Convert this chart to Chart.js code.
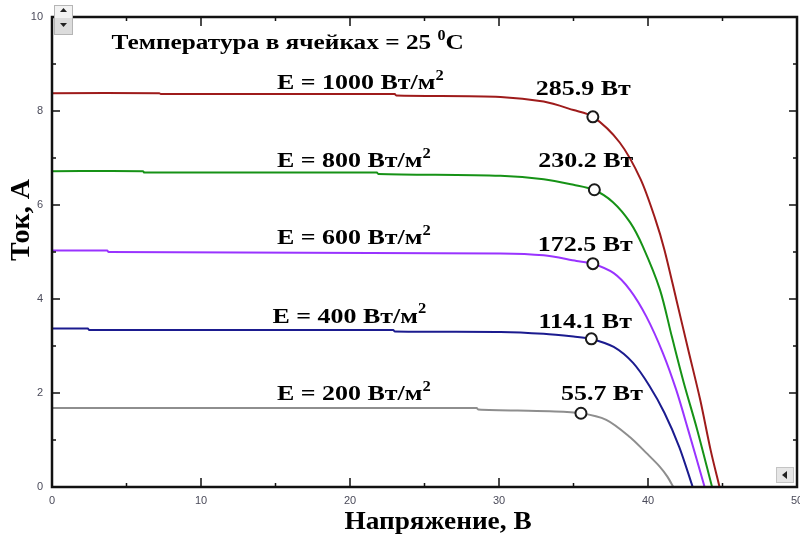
<!DOCTYPE html>
<html>
<head>
<meta charset="utf-8">
<script src="https://cdn.jsdelivr.net/npm/chart.js@4.4.1/dist/chart.umd.min.js"></script>
<style>
  html, body { margin: 0; padding: 0; background: #fff; }
  canvas { display: block; }
</style>
</head>
<body>
<canvas id="ivChart" width="800" height="539"></canvas>
<script>
// irradiance levels, W/m2
const irradiance = [1000, 800, 600, 400, 200];

// I-V curves: voltage (V) and current (A) along each curve
const volt1000 = [0, 7.2, 7.3, 23.0, 23.1, 30.1, 33.0, 35.0, 36.3, 38.1, 39.5, 40.5, 41.1, 41.9, 42.7, 43.5, 44.2, 44.8];
const amp1000  = [8.38, 8.38, 8.36, 8.36, 8.33, 8.30, 8.20, 8.02, 7.88, 7.33, 6.55, 5.69, 5.05, 3.99, 2.92, 1.86, 0.79, 0];

const volt800 = [0, 6.1, 6.2, 21.8, 21.9, 30.1, 33.0, 35.0, 36.4, 37.65, 38.8, 39.65, 40.8, 41.6, 42.4, 43.3, 44.3];
const amp800  = [6.72, 6.72, 6.69, 6.69, 6.66, 6.62, 6.55, 6.43, 6.32, 6.06, 5.63, 5.12, 4.20, 3.20, 2.22, 1.22, 0];

const volt600 = [0, 3.7, 3.8, 30.1, 33.0, 35.2, 36.3, 37.7, 38.8, 39.9, 41.0, 41.9, 42.7, 43.8];
const amp600  = [5.03, 5.03, 5.00, 4.97, 4.93, 4.81, 4.75, 4.55, 4.19, 3.62, 2.85, 2.06, 1.21, 0];

const volt400 = [0, 2.4, 2.5, 22.9, 23.0, 30.1, 33.0, 35.0, 36.2, 37.7, 39.0, 40.1, 41.1, 42.1, 43.0];
const amp400  = [3.37, 3.37, 3.34, 3.34, 3.31, 3.30, 3.26, 3.20, 3.15, 2.98, 2.64, 2.15, 1.58, 0.85, 0];

const volt200 = [0, 28.5, 28.6, 33.4, 35.5, 37.2, 38.8, 39.9, 40.8, 41.3, 41.7];
const amp200  = [1.68, 1.68, 1.65, 1.61, 1.57, 1.43, 1.06, 0.72, 0.43, 0.22, 0];

// maximum power points
const mppPower = [285.9, 230.2, 172.5, 114.1, 55.7];
const mppVolt  = [36.3, 36.4, 36.3, 36.2, 35.5];

const xTickLabels = [0, 10, 20, 30, 40, 50];
const yTickLabels = [0, 2, 4, 6, 8, 10];

const curveVolts = [volt1000, volt800, volt600, volt400, volt200];
const curveAmps  = [amp1000, amp800, amp600, amp400, amp200];
const curveColors = ['#9e1b1b', '#169216', '#9933ff', '#1b1b8f', '#8e8e8e'];

const serif = '"Liberation Serif", "Times New Roman", serif';

const curveSets = irradiance.map((e, i) => ({
  label: 'E = ' + e,
  data: curveVolts[i].map((v, k) => ({ x: v, y: curveAmps[i][k] })),
  showLine: true,
  borderColor: curveColors[i],
  borderWidth: 2,
  pointRadius: 0,
  tension: 0.3,
  order: 1
}));

const mppSet = {
  label: 'MPP',
  data: mppVolt.map((v, i) => ({ x: v, y: mppPower[i] / v })),
  showLine: false,
  pointRadius: 5.5,
  pointBorderWidth: 2,
  pointBorderColor: '#1a1a1a',
  pointBackgroundColor: '#ffffff',
  order: 0
};

// bold serif text, slightly widened, with optional superscript parts
function drawText(ctx, x, y, parts, size, sx) {
  ctx.save();
  ctx.translate(x, y);
  ctx.scale(sx, 1);
  ctx.fillStyle = '#000';
  ctx.textBaseline = 'alphabetic';
  ctx.textAlign = 'left';
  let cx = 0;
  for (const p of parts) {
    const sup = typeof p !== 'string';
    const t = sup ? p.sup : p;
    ctx.font = 'bold ' + (sup ? Math.round(size * 0.62) : size) + 'px ' + serif;
    ctx.fillText(t, cx, sup ? -size * 0.42 : 0);
    cx += ctx.measureText(t).width;
  }
  ctx.restore();
}

const frameAndLabels = {
  id: 'frameAndLabels',
  afterDatasetsDraw(chart, args, opts) {
    const { ctx, chartArea: a, scales: { x, y } } = chart;

    // box with inward ticks
    ctx.save();
    ctx.strokeStyle = '#111';
    ctx.lineWidth = 1.5;
    y.ticks.forEach(t => {
      const py = y.getPixelForValue(t.value);
      const len = yTickLabels.includes(t.value) ? 8 : 4;
      ctx.beginPath();
      ctx.moveTo(a.left, py); ctx.lineTo(a.left + len, py);
      ctx.moveTo(a.right, py); ctx.lineTo(a.right - len, py);
      ctx.stroke();
    });
    x.ticks.forEach(t => {
      const px = x.getPixelForValue(t.value);
      const len = xTickLabels.includes(t.value) ? 9 : 4;
      ctx.beginPath();
      ctx.moveTo(px, a.bottom); ctx.lineTo(px, a.bottom - len);
      ctx.moveTo(px, a.top); ctx.lineTo(px, a.top + len);
      ctx.stroke();
    });
    ctx.lineWidth = 2.5;
    ctx.strokeRect(a.left, a.top, a.right - a.left, a.bottom - a.top);
    ctx.restore();

    // header
    const t = opts.header;
    drawText(ctx, x.getPixelForValue(t.at[0]), y.getPixelForValue(t.at[1]),
      ['Температура в ячейках = 25 ', { sup: '0' }, 'C'], opts.size, t.stretch);

    // irradiance labels
    irradiance.forEach((e, i) => {
      const at = opts.curveLabels[i];
      drawText(ctx, x.getPixelForValue(at[0]), y.getPixelForValue(at[1]),
        ['E = ' + e + ' Вт/м', { sup: '2' }], opts.size, opts.stretch);
    });

    // power at the maximum power points
    const pts = chart.getDatasetMeta(chart.data.datasets.length - 1).data;
    mppPower.forEach((p, i) => {
      const off = opts.powerOffsets[i];
      drawText(ctx, pts[i].x + off[0], pts[i].y + off[1],
        [p.toFixed(1) + ' Вт'], opts.size, opts.stretch);
    });

    // axis titles
    ctx.save();
    ctx.fillStyle = '#000';
    ctx.textAlign = 'center';
    ctx.textBaseline = 'middle';
    ctx.font = 'bold 26px ' + serif;
    ctx.translate(438, 522);
    ctx.scale(1.05, 1);
    ctx.fillText('Напряжение, В', 0, 0);
    ctx.restore();
    ctx.save();
    ctx.fillStyle = '#000';
    ctx.textAlign = 'center';
    ctx.textBaseline = 'middle';
    ctx.font = 'bold 28px ' + serif;
    ctx.translate(22, 220);
    ctx.rotate(-Math.PI / 2);
    ctx.fillText('Ток, А', 0, 0);
    ctx.restore();
  },
  afterDraw(chart) {
    // small scroll buttons of the plot window
    const ctx = chart.ctx;
    ctx.save();
    ctx.fillStyle = '#f2f2f2';
    ctx.fillRect(54, 5, 19, 13);
    ctx.fillStyle = '#dcdcdc';
    ctx.fillRect(54, 18, 19, 17);
    ctx.strokeStyle = '#b5b5b5';
    ctx.lineWidth = 1;
    ctx.strokeRect(54.5, 5.5, 18, 29);
    ctx.fillStyle = '#222';
    ctx.beginPath();
    ctx.moveTo(60, 12); ctx.lineTo(67, 12); ctx.lineTo(63.5, 8); ctx.closePath(); ctx.fill();
    ctx.beginPath();
    ctx.moveTo(60, 23); ctx.lineTo(67, 23); ctx.lineTo(63.5, 27); ctx.closePath(); ctx.fill();
    ctx.fillStyle = '#e6e6e6';
    ctx.fillRect(776, 467, 18, 16);
    ctx.strokeStyle = '#c4c4c4';
    ctx.strokeRect(776.5, 467.5, 17, 15);
    ctx.fillStyle = '#222';
    ctx.beginPath();
    ctx.moveTo(782, 475); ctx.lineTo(787, 471); ctx.lineTo(787, 479); ctx.closePath(); ctx.fill();
    ctx.restore();
  }
};

// fixed axis boxes so the plot area keeps its place
function fixBox(s, w, h) {
  if (w) s.width = w;
  if (h) s.height = h;
  s.paddingLeft = 0;
  s.paddingRight = 0;
  s.paddingTop = 0;
  s.paddingBottom = 0;
}

new Chart(document.getElementById('ivChart'), {
  type: 'scatter',
  data: { datasets: [...curveSets, mppSet] },
  options: {
    responsive: false,
    animation: false,
    layout: { autoPadding: false, padding: { top: 17, right: 3, left: 0, bottom: 0 } },
    plugins: {
      legend: { display: false },
      tooltip: { enabled: false },
      frameAndLabels: {
        size: 22,
        stretch: 1.18,
        header: { at: [4.0, 9.32], stretch: 1.15 },
        curveLabels: [[15.1, 8.46], [15.1, 6.80], [15.1, 5.16], [14.8, 3.50], [15.1, 1.85]],
        powerOffsets: [[-57, -22], [-56, -23], [-55, -13], [-53, -11], [-20, -13]]
      }
    },
    scales: {
      x: {
        type: 'linear',
        min: 0, max: 50,
        afterFit: s => fixBox(s, 0, 52),
        grid: { display: false, drawTicks: false },
        border: { display: false },
        ticks: {
          stepSize: 5,
          padding: 7,
          maxRotation: 0,
          autoSkip: false,
          color: '#4b4b5a',
          font: { family: '"Liberation Sans", Arial, sans-serif', size: 11 },
          callback: v => xTickLabels.includes(v) ? v : ''
        }
      },
      y: {
        type: 'linear',
        min: 0, max: 10,
        afterFit: s => fixBox(s, 52, 0),
        grid: { display: false, drawTicks: false },
        border: { display: false },
        ticks: {
          stepSize: 1,
          padding: 9,
          autoSkip: false,
          color: '#4b4b5a',
          font: { family: '"Liberation Sans", Arial, sans-serif', size: 11 },
          callback: v => yTickLabels.includes(v) ? v : ''
        }
      }
    }
  },
  plugins: [frameAndLabels]
});
</script>
</body>
</html>
